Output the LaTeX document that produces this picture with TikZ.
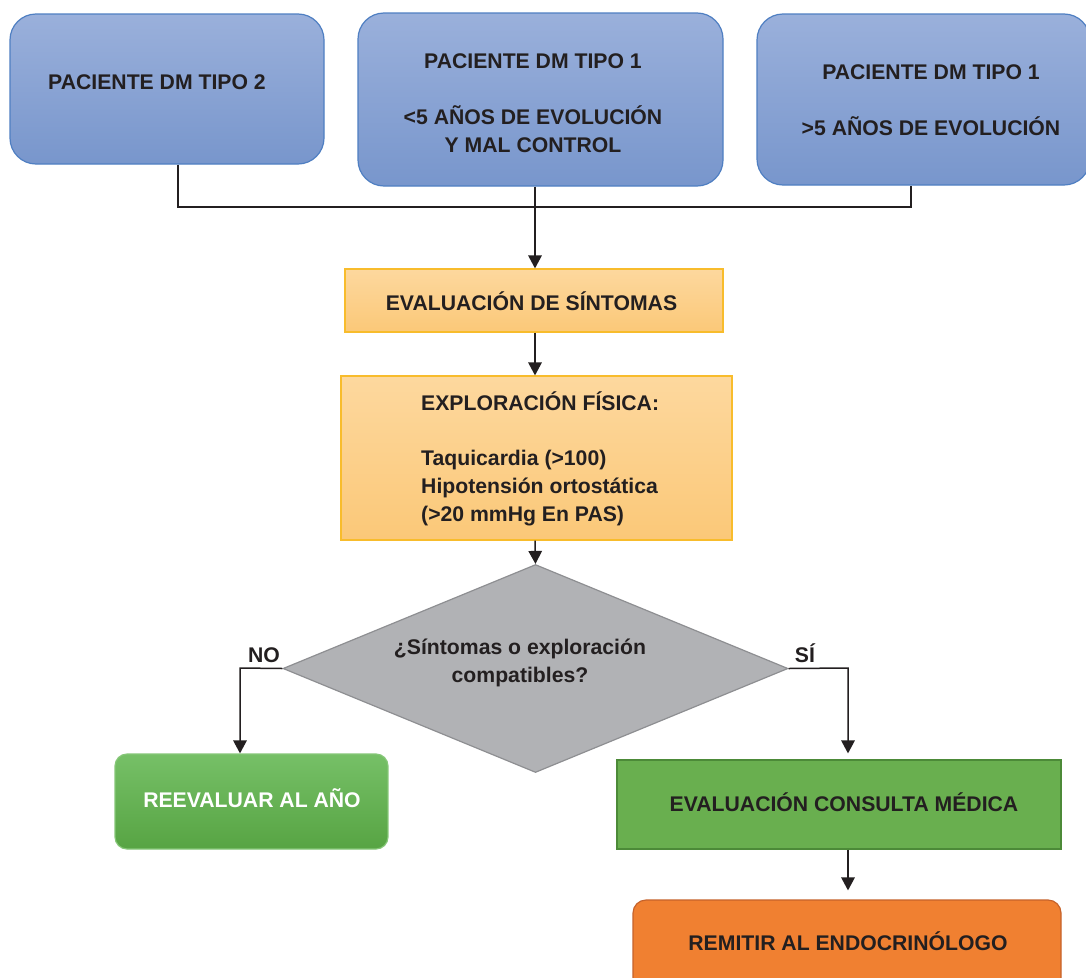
\documentclass[tikz,border=0pt]{standalone}
\usepackage{fontspec}
\setmainfont{Liberation Sans}
\usetikzlibrary{arrows.meta,shapes.geometric}

\definecolor{ink}{HTML}{231F20}
\definecolor{blueTop}{HTML}{9AB0DB}
\definecolor{blueBot}{HTML}{7896CC}
\definecolor{blueEdge}{HTML}{4F7FC2}
\definecolor{amberTop}{HTML}{FDD89E}
\definecolor{amberBot}{HTML}{FBC878}
\definecolor{amberEdge}{HTML}{F8BC2C}
\definecolor{greyFill}{HTML}{B1B2B5}
\definecolor{greyEdge}{HTML}{8E8F92}
\definecolor{greenTop}{HTML}{76C067}
\definecolor{greenBot}{HTML}{57A443}
\definecolor{greenEdge}{HTML}{86C778}
\definecolor{consFill}{HTML}{69AF4F}
\definecolor{consEdge}{HTML}{4C8A38}
\definecolor{remFill}{HTML}{F08031}
\definecolor{remEdge}{HTML}{C6622A}

\tikzset{
  txt/.style={inner sep=0pt, text=ink, font=\bfseries\fontsize{21.2}{28}\selectfont},
  boxbase/.style={rectangle, inner sep=0pt, line width=1.2pt},
  bluebox/.style={boxbase, rounded corners=26pt, top color=blueTop, bottom color=blueBot, draw=blueEdge},
  amberbox/.style={boxbase, top color=amberTop, bottom color=amberBot, draw=amberEdge},
  decision/.style={diamond, inner sep=0pt, line width=1.2pt, fill=greyFill, draw=greyEdge},
  greenbox/.style={boxbase, rounded corners=12pt, top color=greenTop, bottom color=greenBot, draw=greenEdge},
  consbox/.style={boxbase, fill=consFill, draw=consEdge},
  rembox/.style={boxbase, rounded corners=13pt, fill=remFill, draw=remEdge},
  wire/.style={draw=ink, line width=1.5pt},
  arr/.style={wire, -{Triangle[width=13.5pt,length=13pt]}}
}

\begin{document}
\begin{tikzpicture}[x=1pt,y=-1pt]
\useasboundingbox (0,0) rectangle (1086,977);
\fill[white] (0,0) rectangle (1086,977);
\clip (0,0) rectangle (1086,977);

% patient groups
\node[bluebox, minimum width=314pt, minimum height=150pt] (dm2) at (167,89) {};
\node[txt, anchor=base] (dm2t) at (157,89) {PACIENTE DM TIPO 2};

\node[bluebox, minimum width=365pt, minimum height=173pt] (dm1a) at (540.5,99.5) {};
\node[txt, align=center, anchor=north] (dm1at) at (533,68)
  {\smash{PACIENTE DM TIPO 1}\\[28pt]<5 AÑOS DE EVOLUCIÓN\\\smash{Y MAL CONTROL}};

\node[bluebox, minimum width=333pt, minimum height=171pt] (dm1b) at (923.5,99.5) {};
\node[txt, align=center, anchor=north] (dm1bt) at (931,79)
  {\smash{PACIENTE DM TIPO 1}\\[28pt]\smash{>5 AÑOS DE EVOLUCIÓN}};

% assessment steps
\node[amberbox, minimum width=378pt, minimum height=63pt] (evs) at (534,300.5) {};
\node[txt, anchor=base] (evst) at (531.5,310) {EVALUACIÓN DE SÍNTOMAS};

\node[amberbox, minimum width=391pt, minimum height=164pt] (exp) at (536.5,458) {};
\node[txt, align=left, anchor=north west] (expt) at (421,410)
  {\smash{EXPLORACIÓN FÍSICA:}\\[27pt]Taquicardia (>100)\\Hipotensión ortostática\\\smash{(>20 mmHg En PAS)}};

% decision
\node[decision, minimum width=505pt, minimum height=208pt] (dec) at (535.5,668.5) {};
\node[txt, align=center, anchor=north] (dect) at (520,654)
  {\smash{¿Síntomas o exploración}\\\smash{compatibles?}};
\node[txt, anchor=base] (nolab) at (264,662) {NO};
\node[txt, anchor=base] (silab) at (805,662) {SÍ};

% outcomes
\node[greenbox, minimum width=273pt, minimum height=95pt] (reev) at (251.5,801.5) {};
\node[txt, text=white, anchor=base] (reevt) at (252,807) {REEVALUAR AL AÑO};

\node[consbox, minimum width=444pt, minimum height=89pt] (cons) at (839,804.5) {};
\node[txt, anchor=base] (const) at (844,811) {EVALUACIÓN CONSULTA MÉDICA};

\node[rembox, minimum width=428pt, minimum height=95pt] (rem) at (847,947.5) {};
\node[txt, anchor=base] (remt) at (848,950) {REMITIR AL ENDOCRINÓLOGO};

% connectors
\coordinate (jl) at (178,207);
\coordinate (jr) at (911,207);
\coordinate (jm) at (535,207);
\coordinate (no) at (240,668);
\coordinate (si) at (848,668);

\draw[wire] (dm2.south -| jl) -- (jl) -- (jr) -- (dm1b.south -| jr);
\draw[arr] (dm1a.south -| jm) -- (jm |- evs.north);
\draw[arr] (evs.south -| jm) -- (jm |- exp.north);
\draw[arr] (exp.south -| jm) -- (dec.north);
\draw[arr] (dec.west) -- (no) -- (no |- reev.north);
\draw[arr, shorten >=6pt] (dec.east) -- (si) -- (si |- cons.north);
\draw[arr, shorten >=9pt] (cons.south -| si) -- (si |- rem.north);
\end{tikzpicture}
\end{document}
